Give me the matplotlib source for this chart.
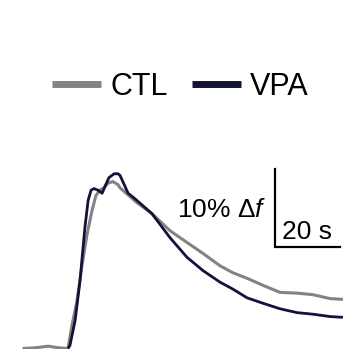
import matplotlib
matplotlib.use("Agg")
import matplotlib.pyplot as plt
from matplotlib.lines import Line2D

plt.rcParams['font.family'] = ['Liberation Sans', 'DejaVu Sans']
plt.rcParams['mathtext.fontset'] = 'custom'
plt.rcParams['mathtext.rm'] = 'Liberation Sans'
plt.rcParams['mathtext.it'] = 'Liberation Sans:italic'

# time (s) relative to onset, response (% delta f)
ctl_t = [-14.0, -10.0, -6.0, -3.0, 0.0, 1.2, 2.8, 4.3, 5.8, 7.4, 8.6, 9.8, 11.1, 12.3, 13.8,
         15.4, 16.0, 21.2, 25.8, 31.4, 36.6, 41.5, 46.8, 50.8, 55.1, 60.0, 65.2, 70.5, 75.4,
         80.6, 84.6]
ctl_f = [0.0, 0.1, 0.3, 0.1, 0.0, 2.9, 6.2, 10.6, 14.5, 17.7, 19.6, 20.3, 20.6, 21.2, 21.4,
         21.0, 20.6, 18.7, 17.3, 15.1, 13.6, 12.2, 10.6, 9.7, 9.0, 8.1, 7.2, 7.1, 6.9,
         6.4, 6.3]

vpa_t = [0.0, 0.6, 2.2, 3.7, 5.2, 6.2, 7.1, 8.0, 9.2, 10.5, 11.4, 12.6, 14.2, 15.4, 16.0,
         18.5, 20.6, 25.8, 31.4, 36.6, 41.5, 46.8, 50.8, 55.1, 60.0, 65.2, 70.5, 75.4,
         80.6, 84.6]
vpa_f = [0.0, 0.4, 3.6, 8.7, 15.5, 19.0, 20.3, 20.5, 20.3, 19.9, 20.8, 21.9, 22.4, 22.4, 22.2,
         19.9, 19.2, 17.3, 14.2, 11.7, 10.0, 8.5, 7.6, 6.5, 5.8, 5.1, 4.6, 4.4,
         4.1, 4.0]

labels = ["CTL", "VPA"]
colors = ["#838383", "#12123a"]

scale_t = 20   # s
scale_f = 10   # %

fig = plt.figure(figsize=(3.46, 3.49), dpi=100)
ax = fig.add_axes([0, 0, 1, 1])
ax.set_xlim(-20.92, 85.54)
ax.set_ylim(-0.06, 44.67)
ax.axis('off')

ax.plot(ctl_t, ctl_f, color=colors[0], lw=2.2, solid_capstyle='butt',
        solid_joinstyle='round', zorder=2)
ax.plot(vpa_t, vpa_f, color=colors[1], lw=2.0, solid_capstyle='butt',
        solid_joinstyle='round', zorder=3)

# scale bar
x0, y0 = 63.7, 12.95
ax.plot([x0, x0, x0 + scale_t], [y0 + scale_f, y0, y0], color='black', lw=1.6,
        solid_joinstyle='miter', zorder=4)
ax.text(x0 - 2.6, y0 + 4.8, f"{scale_f}% $\\mathrm{{\\Delta}}\\mathit{{f}}$", ha='right', va='center',
        fontsize=19)
ax.text(x0 + 2.0, y0 + 0.5, f"{scale_t} s", ha='left', va='bottom', fontsize=19)

handles = [Line2D([], [], color=c, lw=5, solid_capstyle='butt') for c in colors]
fig.legend(handles, labels, loc='center', bbox_to_anchor=(180.5 / 346, 1 - 87 / 349),
           ncol=2, frameon=False, fontsize=22, handlelength=1.6, handletextpad=0.3,
           columnspacing=0.8, borderpad=0, borderaxespad=0)

fig.savefig("out.png", dpi=100)
